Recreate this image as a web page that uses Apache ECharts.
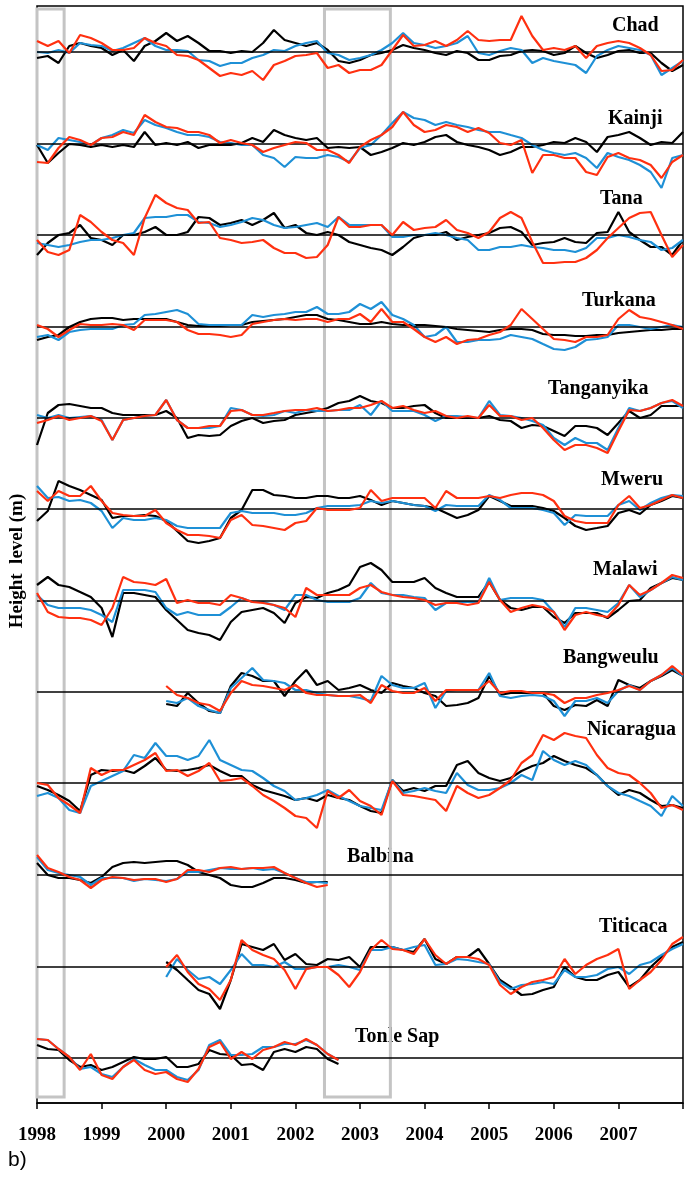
<!DOCTYPE html>
<html>
<head>
<meta charset="utf-8">
<script src="https://cdn.jsdelivr.net/npm/echarts@6/dist/echarts.min.js"></script>
<style>
html,body{margin:0;padding:0;background:#fff;}
#chart{width:686px;height:1177px;}
</style>
</head>
<body>
<div id="chart"></div>
<script>
// ---------- DATA ----------
// time axis (decimal years, two-month steps)
const T = [1998,1998.167,1998.333,1998.5,1998.667,1998.833,
1999,1999.167,1999.333,1999.5,1999.667,1999.833,
2000,2000.167,2000.333,2000.5,2000.667,2000.833,
2001,2001.167,2001.333,2001.5,2001.667,2001.833,
2002,2002.167,2002.333,2002.5,2002.667,2002.833,
2003,2003.167,2003.333,2003.5,2003.667,2003.833,
2004,2004.167,2004.333,2004.5,2004.667,2004.833,
2005,2005.167,2005.333,2005.5,2005.667,2005.833,
2006,2006.167,2006.333,2006.5,2006.667,2006.833,
2007,2007.167,2007.333,2007.5,2007.667,2007.833,
2008];

const YEAR_LABELS = ['1998','1999','2000','2001','2002','2003','2004','2005','2006','2007'];

const LAKES = ['Chad','Kainji','Tana','Turkana','Tanganyika','Mweru','Malawi','Bangweulu','Nicaragua','Balbina','Titicaca','Tonle Sap'];

// index in T of each lake's first value
const START = {Chad:0,Kainji:0,Tana:0,Turkana:0,Tanganyika:0,Mweru:0,Malawi:0,Bangweulu:12,Nicaragua:0,Balbina:0,Titicaca:12,'Tonle Sap':0};

// height anomalies (relative units) – black, blue, red series
const CHAD_BLACK = [-6,-4,-11,6,9,6, 4,-3,2,-9,6,11, 19,11,16,9,1,1, -1,1,0,9,22,12, 9,6,9,2,-9,-11, -8,-3,-1,2,7,4, 2,-1,-3,1,-1,-8, -8,-4,-3,1,2,1, -3,-1,6,-1,-6,-3, 1,2,-1,-1,-11,-19, -13];
const CHAD_BLUE  = [0,-1,2,-1,9,7, 6,1,4,9,14,6, 2,2,1,-8,-9,-14, -11,-11,-6,-3,2,1, 6,9,11,-1,-3,-8, -6,-3,2,9,19,9, 7,4,6,9,16,-1, -3,1,4,2,-11,-6, -9,-11,-13,-21,-4,2, 6,4,2,-3,-23,-16, -9];
const CHAD_RED   = [11,6,11,-1,17,14, 9,2,2,4,14,9, 6,-3,-4,-8,-16,-24, -21,-23,-19,-28,-13,-9, -4,-3,-1,-16,-13,-21, -18,-18,-13,2,17,6, 7,11,6,12,21,12, 11,12,12,36,16,2, 4,2,6,-6,6,9, 11,9,4,-3,-19,-18, -8];

const KAINJI_BLACK = [-1,-19,-9,0,-1,-3, -1,-3,-1,-3,12,-1, 1,-1,2,-4,-1,-1, -1,1,6,2,14,9, 6,4,6,-4,-3,-4, -3,-11,-8,-4,1,-1, 2,7,9,2,-1,-3, -6,-11,-8,-3,-3,-1, 2,1,6,2,-8,7, 9,12,6,-1,2,1, 12];
const KAINJI_BLUE  = [-1,-6,6,4,2,-1, 6,9,14,11,24,19, 16,12,9,9,7,2, 1,-1,-1,-11,-14,-23, -13,-14,-14,-11,-13,-18, -4,-1,9,21,32,26, 24,19,22,19,17,14, 12,12,9,6,-1,-6, -9,-11,-9,-14,-24,-9, -13,-16,-21,-28,-44,-14, -11];
const KAINJI_RED   = [-18,-19,-4,7,4,-1, 6,7,12,9,29,22, 17,16,12,12,9,1, 4,1,-1,-8,-4,-1, 2,1,-6,-6,-11,-19, -3,4,9,17,32,19, 12,14,19,17,12,16, 11,1,-1,4,-29,-11, -11,-14,-14,-28,-31,-13, -9,-14,-16,-21,-34,-18, -11];

const TANA_BLACK = [-20,-8,0,2,10,-3, -5,-10,0,0,3,8, 0,0,3,18,17,10, 12,15,10,15,22,7, 10,2,0,3,0,-7, -10,-13,-15,-20,-12,-3, 0,0,3,-5,-2,0, 2,7,8,3,-10,-8, -7,-3,-7,-8,2,3, 23,3,-5,-12,-12,-20, -5];
const TANA_BLUE  = [-8,-10,-12,-10,-7,-5, -5,-3,0,2,17,18, 18,20,20,13,12,8, 10,13,17,15,10,7, 8,10,12,8,18,10, 10,10,10,-2,-2,0, 0,2,0,-3,-5,-15, -15,-12,-12,-10,-12,-13, -15,-15,-17,-13,-3,-3, 0,-2,-5,-7,-15,-13, -5];
const TANA_RED   = [-5,-17,-20,-15,20,13, 3,-5,-8,-20,17,40, 32,27,25,12,13,-3, -5,-8,-7,-5,-13,-18, -18,-23,-22,-10,18,8, 8,10,10,0,13,5, 7,8,15,5,2,-3, 3,17,23,17,-7,-28, -28,-27,-27,-23,-15,-3, 7,17,22,23,0,-22, -10];

const TURKANA_BLACK = [-13,-10,-8,0,5,8, 9,9,7,8,8,8, 8,5,2,1,1,1, 2,2,5,6,7,8, 10,12,12,8,7,5, 3,3,5,3,2,2, 2,1,0,-2,-3,-4, -5,-3,-2,-2,-3,-7, -8,-8,-9,-9,-8,-8, -6,-5,-4,-3,-3,-2, -2];
const TURKANA_BLUE  = [-10,-8,-13,-5,-3,-2, -2,-2,2,3,12,13, 15,17,13,3,2,2, 2,2,12,10,12,13, 15,15,20,13,13,15, 23,18,25,12,8,2, -10,-8,0,-15,-15,-13, -13,-12,-8,-10,-12,-17, -22,-23,-20,-13,-12,-10, 2,2,0,-2,0,2, 0];
const TURKANA_RED   = [2,-2,-10,-3,3,2, 2,3,2,-3,7,7, 7,5,-3,-7,-7,-8, -10,-8,3,5,7,8, 7,8,8,5,8,8, 13,5,18,5,5,-2, -10,-15,-10,-17,-13,-12, -8,-5,2,18,8,-2, -12,-13,-15,-10,-10,-8, 8,17,10,8,5,2, -2];

const TANGANYIKA_BLACK = [-27,5,13,14,12,10, 10,5,3,3,3,3, 7,0,-20,-17,-18,-17, -8,-3,0,-5,-3,-2, 3,5,7,10,15,17, 22,17,15,10,10,12, 13,5,0,0,0,0, 2,-2,-3,-10,-7,-8, -13,-18,-8,-8,-10,-17, -5,7,0,3,12,12, 12];
const TANGANYIKA_BLUE  = [3,0,3,0,1,2, -2,-22,-2,0,2,3, 18,-2,-10,-10,-10,-8, 10,8,3,2,3,7, 5,8,7,7,8,8, 13,3,17,7,7,7, 3,-3,2,2,1,0, 17,3,2,0,-3,-7, -20,-27,-20,-25,-25,-32, -10,10,7,10,15,17, 10];
const TANGANYIKA_RED   = [-5,-2,2,-2,0,2, -3,-22,-2,0,2,3, 18,-2,-10,-10,-8,-8, 7,8,3,3,5,7, 8,8,10,7,8,10, 10,13,17,10,12,8, 5,7,2,0,2,0, 13,2,2,-2,0,-10, -22,-32,-27,-27,-30,-35, -13,8,7,10,15,18, 12];

const MWERU_BLACK = [-12,-2,28,23,19,14, 9,-9,-7,-7,-6,-7, -12,-22,-32,-34,-32,-29, -9,-1,19,19,14,13, 11,11,13,13,11,11, 13,9,4,8,6,4, 3,1,-4,-9,-6,-1, 13,8,3,3,3,1, -2,-9,-17,-21,-19,-17, -4,-1,-5,4,8,13, 11];
const MWERU_BLUE  = [23,11,12,8,9,6, -2,-19,-9,-11,-11,-9, -11,-17,-19,-19,-19,-19, -4,-2,-4,-4,-4,-6, -6,-4,1,3,3,3, 4,8,6,8,6,4, 3,-2,4,3,3,3, 14,9,1,1,1,-1, -4,-16,-6,-7,-7,-7, 4,8,-1,6,11,14, 13];
const MWERU_RED   = [18,8,18,13,13,23, 8,-4,-6,-7,-7,-1, -14,-21,-26,-26,-27,-29, -11,-6,-16,-17,-19,-21, -14,-12,1,-1,-1,-1, 1,19,8,11,11,11, 11,1,18,11,11,11, 13,11,14,16,16,14, 8,-7,-12,-14,-14,-14, 4,13,1,4,9,14, 11];

const MALAWI_BLACK = [16,24,16,14,9,4, -7,-36,8,8,6,4, -9,-19,-29,-32,-34,-39, -21,-11,-9,-7,-12,-22, -2,4,3,8,11,16, 34,38,31,19,19,19, 23,13,8,4,4,4, 19,1,-7,-9,-6,-6, -16,-22,-12,-12,-12,-17, -9,0,1,13,18,23, 21];
const MALAWI_BLUE  = [6,-4,-7,-7,-7,-9, -14,-21,11,11,11,9, -7,-14,-11,-14,-14,-14, -6,3,-1,-1,-4,-9, 6,6,1,-1,-1,-1, 3,18,8,6,6,4, 3,-9,-2,-1,-1,-1, 23,1,3,3,3,1, -11,-26,-7,-7,-9,-11, -2,16,4,11,18,24, 21];
const MALAWI_RED   = [8,-11,-16,-17,-17,-19, -24,-7,24,19,18,16, 22,-2,1,-2,-2,-4, 6,3,-1,-2,-4,-7, -16,13,6,6,6,6, 13,16,9,6,4,3, 1,-4,-2,-2,-4,-2, 19,1,-11,-7,-4,-6, -11,-29,-14,-11,-14,-16, -4,16,6,11,18,26, 23];

const BANGWEULU_BLACK = [-12,-14,-1,-11,-19,-21, 6,19,16,11,11,-4, 11,22,7,11,2,4, 7,2,-1,9,6,4, -1,-4,-14,-13,-11,-6, 16,-3,-1,-1,-1,-1, -14,-18,-13,-14,-8,-14, 12,7,4,11,16,22, 16];
const BANGWEULU_BLUE  = [-9,-11,-6,-14,-18,-21, 4,14,24,12,11,9, 2,2,-1,-3,-4,-4, -6,-9,16,7,4,4, 9,-16,1,2,2,2, 19,-4,-6,-4,-3,-4, -9,-24,-9,-9,-6,-11, 1,7,2,11,17,24, 16];
const BANGWEULU_RED   = [6,-3,-6,-11,-13,-19, -1,11,7,6,4,2, 7,-1,-3,-3,-4,-4, -3,-11,7,1,-1,-1, 4,-9,2,2,2,2, 11,-1,1,1,-1,-1, -3,-11,-6,-6,-3,-1, 2,6,2,11,17,26, 17];

const NICARAGUA_BLACK = [-3,-7,-12,-18,-28,8, 13,12,13,10,17,25, 13,12,13,15,18,12, 7,7,-2,-7,-10,-13, -17,-15,-18,-12,-15,-17, -23,-28,-30,3,-8,-5, -8,-3,-3,18,22,10, 5,2,5,12,17,20, 27,22,18,15,8,-3, -12,-7,-10,-17,-23,-22, -25];
const NICARAGUA_BLUE  = [-13,-10,-15,-27,-30,-3, 2,7,12,28,25,40, 27,27,23,27,43,23, 18,13,12,5,-3,-8, -17,-15,-12,-7,-13,-18, -23,-25,-27,3,-10,-8, -5,-8,-10,10,-2,-7, -7,-5,0,8,3,32, 23,18,22,18,8,-3, -10,-13,-18,-23,-33,-13, -23];
const NICARAGUA_RED   = [0,-2,-15,-22,-30,15, 8,13,13,18,23,30, 12,13,7,12,20,2, 3,5,-3,-12,-18,-25, -33,-35,-45,-8,-15,-7, -18,-23,-32,2,-12,-13, -15,-17,-28,-3,-10,-15, -12,-5,3,20,28,48, 43,50,47,45,28,15, 10,8,0,-10,-25,-22, -27];

const BALBINA_BLACK = [12,0,-3,-3,-5,-8, -2,8,12,13,12,13, 14,14,10,3,0,-3, -10,-12,-12,-8,-3,-3, -5,-8,-7,-7];
const BALBINA_BLUE  = [18,5,2,0,-2,-10, -3,-3,-3,-6,-4,-5, -6,-4,3,3,5,7, 6,6,7,5,6,2, -3,-7,-7,-8];
const BALBINA_RED   = [20,7,3,-2,-5,-13, -5,-2,-3,-5,-4,-4, -7,-4,5,5,3,7, 8,6,7,7,8,2, -3,-8,-12,-10];

const TITICACA_BLACK = [5,-3,-13,-23,-27,-42, -13,23,20,17,23,7, 13,3,2,8,7,10, 0,20,20,20,17,15, 28,8,3,10,10,18, 3,-13,-20,-28,-27,-23, -20,0,-10,-13,-13,-8, -5,-20,-13,0,10,20, 25];
const TITICACA_BLUE  = [-10,8,-3,-12,-10,-17, -3,13,2,2,0,5, -2,-2,0,0,2,0, -3,17,17,20,17,20, 22,2,3,8,7,5, 3,-15,-22,-18,-17,-15, -17,-3,-10,-10,-8,-2, 0,-7,2,5,12,18, 23];
const TITICACA_RED   = [0,12,-5,-17,-22,-33, -13,27,17,12,8,-3, -22,-2,0,0,-8,-20, -5,17,27,18,17,13, 28,12,3,10,10,8, 2,-18,-27,-20,-15,-13, -10,8,-7,2,8,12, 18,-22,-13,-5,7,23, 30];

const TONLESAP_BLACK = [13,9,8,-2,-9,-7, -12,-9,-4,1,-1,-1, 1,-9,-9,-6,8,4, 3,-7,-6,-12,6,9, 6,11,9,-1,-6];
const TONLESAP_BLUE  = [19,18,9,1,-11,-9, -16,-19,-9,-1,-7,-12, -12,-19,-22,-12,13,18, 3,3,4,11,11,14, 14,18,13,4,-2];
const TONLESAP_RED   = [19,18,9,1,-12,4, -17,-21,-9,-2,-12,-16, -14,-21,-24,-11,11,16, -1,6,-1,8,11,16, 13,19,13,4,-2];

// highlighted periods (years)
const HIGHLIGHTS = [[1998.0, 1998.42], [2002.45, 2003.47]];

const VALUES = {
  'Chad':[CHAD_BLACK,CHAD_BLUE,CHAD_RED],
  'Kainji':[KAINJI_BLACK,KAINJI_BLUE,KAINJI_RED],
  'Tana':[TANA_BLACK,TANA_BLUE,TANA_RED],
  'Turkana':[TURKANA_BLACK,TURKANA_BLUE,TURKANA_RED],
  'Tanganyika':[TANGANYIKA_BLACK,TANGANYIKA_BLUE,TANGANYIKA_RED],
  'Mweru':[MWERU_BLACK,MWERU_BLUE,MWERU_RED],
  'Malawi':[MALAWI_BLACK,MALAWI_BLUE,MALAWI_RED],
  'Bangweulu':[BANGWEULU_BLACK,BANGWEULU_BLUE,BANGWEULU_RED],
  'Nicaragua':[NICARAGUA_BLACK,NICARAGUA_BLUE,NICARAGUA_RED],
  'Balbina':[BALBINA_BLACK,BALBINA_BLUE,BALBINA_RED],
  'Titicaca':[TITICACA_BLACK,TITICACA_BLUE,TITICACA_RED],
  'Tonle Sap':[TONLESAP_BLACK,TONLESAP_BLUE,TONLESAP_RED]
};

// ---------- LAYOUT ----------
const W = 686, H = 1177;
const GRID = {left: 37, right: 2, top: 6, bottom: 74};
const PLOT_H = H - GRID.top - GRID.bottom;       // 1097 px -> y axis 0..PLOT_H
const BASE_Y = [52,144,235,327,418,509,601,692,783,875,967,1058]; // pixel row of each baseline
const LABEL_POS = [[612,27],[608,120],[600,200],[582,302],[548,390],[601,481],[593,571],[563,659],[587,731],[347,858],[599,928],[355,1038]];
const COLORS = ['#000000','#1e90d6','#ff3010'];
const SERIF = '"Times New Roman","Liberation Serif",serif';

const series = [];
LAKES.forEach((lake, li) => {
  const off = (H - GRID.bottom) - BASE_Y[li];
  const s0 = START[lake];
  VALUES[lake].forEach((vals, ci) => {
    const s = {
      type: 'line',
      name: lake + ci,
      showSymbol: false,
      symbol: 'none',
      silent: true,
      z: 3 + ci,
      lineStyle: {color: COLORS[ci], width: 2.2},
      data: vals.map((v, j) => [T[s0 + j], off + v])
    };
    if (ci === 0) {
      s.markLine = {
        silent: true, symbol: 'none', label: {show: false},
        lineStyle: {color: '#000', width: 1.6, type: 'solid'},
        data: [{yAxis: off}]
      };
    }
    if (li === 0 && ci === 0) {
      s.markArea = {
        silent: true,
        itemStyle: {color: 'rgba(0,0,0,0)', borderColor: '#c4c4c4', borderWidth: 3},
        data: HIGHLIGHTS.map(h => [{xAxis: h[0], yAxis: PLOT_H - 3}, {xAxis: h[1], yAxis: 6}])
      };
    }
    series.push(s);
  });
});

const graphic = LAKES.map((lake, li) => ({
  type: 'text', left: LABEL_POS[li][0], top: LABEL_POS[li][1] - 11, silent: true,
  style: {text: lake, font: 'bold 20px ' + SERIF, fill: '#000'}
}));
graphic.push({
  type: 'text', x: 8, y: 561, rotation: Math.PI / 2, silent: true,
  style: {text: 'Height  level (m)', font: 'bold 19px ' + SERIF, fill: '#000', align: 'center', verticalAlign: 'top'}
});
graphic.push({
  type: 'text', left: 8, top: 1150, silent: true,
  style: {text: 'b)', font: '21px "Liberation Sans", Arial, sans-serif', fill: '#000'}
});

const chart = echarts.init(document.getElementById('chart'), null, {renderer: 'canvas'});
chart.setOption({
  animation: false,
  backgroundColor: '#fff',
  grid: {left: GRID.left, right: GRID.right, top: GRID.top, bottom: GRID.bottom, show: true, borderColor: '#000', borderWidth: 1.5, backgroundColor: 'rgba(0,0,0,0)'},
  xAxis: {
    type: 'value', min: 1998, max: 2008, interval: 1,
    axisLine: {show: true, lineStyle: {color: '#000', width: 1.5}},
    axisTick: {show: true, length: 6, lineStyle: {color: '#000', width: 1.5}},
    splitLine: {show: false},
    axisLabel: {
      margin: 23, color: '#000', fontFamily: SERIF, fontWeight: 'bold', fontSize: 19,
      formatter: v => YEAR_LABELS[Math.round(v - 1998)] || ''
    }
  },
  yAxis: {type: 'value', min: 0, max: PLOT_H, show: false},
  graphic: graphic,
  series: series
});
</script>
</body>
</html>
